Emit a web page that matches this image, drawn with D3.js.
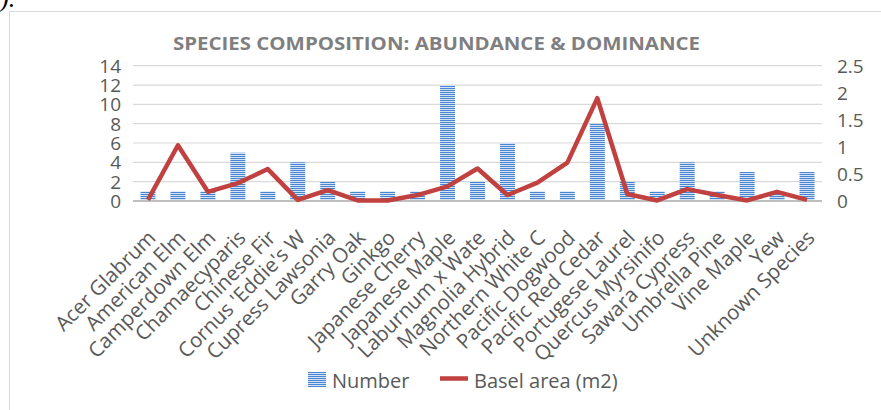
<!DOCTYPE html>
<html><head><meta charset="utf-8">
<script src="https://cdn.jsdelivr.net/npm/d3@7"></script>
<style>body{margin:0;background:#fff;}svg{display:block;}</style>
</head><body>
<svg id="c" width="881" height="410"></svg>
<script>
const categories = ["Acer Glabrum","American Elm","Camperdown Elm","Chamaecyparis","Chinese Fir","Cornus 'Eddie's W","Cupress Lawsonia","Garry Oak","Ginkgo","Japanese Cherry","Japanese Maple","Laburnum x Wate","Magnolia Hybrid","Northern White C","Pacific Dogwood","Pacific Red Cedar","Portugese Laurel","Quercus Myrsinifo","Sawara Cypress","Umbrella Pine","Vine Maple","Yew","Unknown Species"];
const numberValues = [1,1,1,5,1,4,2,1,1,1,12,2,6,1,1,8,2,1,4,1,3,1,3];
const basalArea = [0.02,1.03,0.17,0.33,0.59,0.02,0.2,0.01,0.01,0.11,0.27,0.6,0.11,0.34,0.71,1.9,0.13,0.01,0.22,0.11,0.01,0.17,0.02];
const leftTicks = [0,2,4,6,8,10,12,14];
const rightTicks = [0,0.5,1,1.5,2,2.5];
const titleText = "SPECIES COMPOSITION: ABUNDANCE & DOMINANCE";
const seriesNames = ["Number","Basel area (m2)"];

const svg = d3.select("#c");
const font = "'Open Sans', sans-serif";
const grey = "#595959";
const L = 133, R = 822, T = 65.7, B = 201;

const defs = svg.append("defs");
const pat = defs.append("pattern").attr("id","stripe").attr("patternUnits","userSpaceOnUse")
  .attr("width",4).attr("height",2);
pat.append("rect").attr("width",4).attr("height",2).attr("fill","#d3e2f4");
pat.append("rect").attr("width",4).attr("height",1).attr("fill","#4a86d0");

svg.append("path").attr("d","M9.5,900 V11.5 H900").attr("fill","none").attr("stroke","#d9d9d9").attr("stroke-width",1);
svg.append("text").attr("x",0).attr("y",7).attr("font-family","'Liberation Serif', serif").attr("font-style","italic").attr("font-size",26).attr("fill","#000").text(").");

const x = d3.scaleBand().domain(categories).range([L,R]).paddingInner(0.5).paddingOuter(0.25);
const yL = d3.scaleLinear().domain([0,14]).range([B,T]);
const yR = d3.scaleLinear().domain([0,2.5]).range([B,T]);

svg.append("g").selectAll("line").data(leftTicks.filter(d=>d>0)).join("line")
  .attr("x1",L).attr("x2",R).attr("y1",d=>yL(d)).attr("y2",d=>yL(d))
  .attr("stroke","#d9d9d9").attr("stroke-width",1.2);

const axL = svg.append("g").attr("transform",`translate(${L},0)`).call(d3.axisLeft(yL).tickValues(leftTicks).tickSize(0).tickPadding(12));
axL.select(".domain").remove();
axL.selectAll("text").attr("font-family",font).attr("font-size",19).attr("fill",grey).attr("dy","0.34em");
const axR = svg.append("g").attr("transform",`translate(${R},0)`).call(d3.axisRight(yR).tickValues(rightTicks).tickSize(0).tickPadding(15).tickFormat(d3.format("~g")));
axR.select(".domain").remove();
axR.selectAll("text").attr("font-family",font).attr("font-size",19).attr("fill",grey).attr("dy","0.34em");

svg.append("g").selectAll("rect").data(numberValues).join("rect")
  .attr("x",(d,i)=>x(categories[i])).attr("width",x.bandwidth())
  .attr("y",d=>yL(d)).attr("height",d=>B-yL(d)).attr("fill","url(#stripe)");

svg.append("line").attr("x1",L).attr("x2",R).attr("y1",B).attr("y2",B).attr("stroke","#bfbfbf").attr("stroke-width",2);

const line = d3.line().x((d,i)=>x(categories[i])+x.bandwidth()/2).y(d=>yR(d));
svg.append("path").datum(basalArea).attr("d",line).attr("fill","none")
  .attr("stroke","#c0413f").attr("stroke-width",4.5).attr("stroke-linejoin","round");

const xa = svg.append("g").attr("transform",`translate(0,${B})`).call(d3.axisBottom(x).tickSize(0).tickPadding(0));
xa.select(".domain").remove();
xa.selectAll("text").attr("font-family",font).attr("font-size",20.5).attr("fill",grey)
  .attr("text-anchor","end").attr("dy",0).attr("y",0).attr("x",0)
  .attr("transform","translate(9,38) rotate(-45)");

svg.append("text").attr("x",436.5).attr("y",50).attr("text-anchor","middle")
  .attr("font-family",font).attr("font-weight","bold").attr("font-size",18.5).attr("fill","#7f7f7f")
  .attr("textLength",527).attr("lengthAdjust","spacingAndGlyphs").text(titleText);

const lg = svg.append("g");
lg.append("rect").attr("x",308).attr("y",372).attr("width",18).attr("height",15).attr("fill","url(#stripe)");
lg.append("text").attr("x",332).attr("y",388).attr("font-family",font).attr("font-size",20).attr("fill",grey).text(seriesNames[0]);
lg.append("line").attr("x1",440).attr("x2",468).attr("y1",378.5).attr("y2",378.5).attr("stroke","#c0413f").attr("stroke-width",4.5);
lg.append("text").attr("x",474).attr("y",388).attr("font-family",font).attr("font-size",20).attr("fill",grey).text(seriesNames[1]);
</script>
</body></html>
